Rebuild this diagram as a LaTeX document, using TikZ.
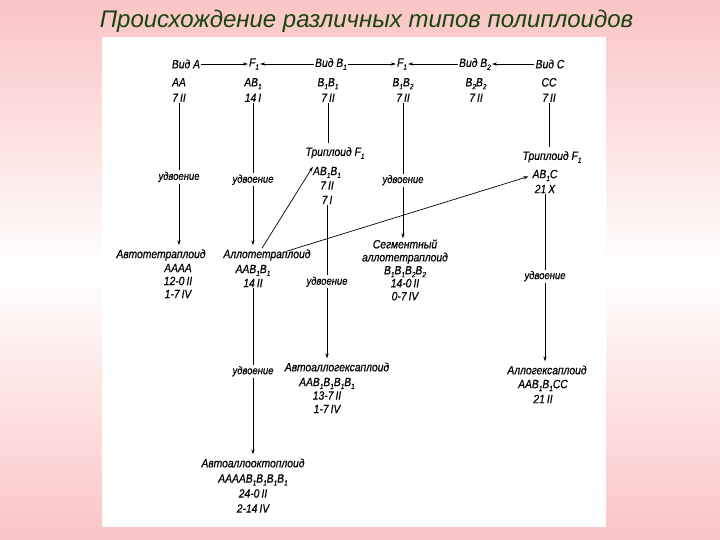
\documentclass[tikz,border=0pt]{standalone}
\usepackage{fontspec}
\setmainfont{Liberation Sans}
\newfontfamily\diagfont[FakeStretch=0.86,FakeBold=0.5]{Liberation Sans}
\usepackage{tikz}
\usetikzlibrary{arrows.meta,calc}
\definecolor{bgpink}{HTML}{FBC4C4}
\definecolor{titlegreen}{HTML}{17440F}
% small lowered index digit
\newcommand{\ix}[1]{\raisebox{-0.45ex}{\fontsize{7.5}{7.5}\selectfont #1}}

\begin{document}
\begin{tikzpicture}[x=1pt, y=-1pt,
  txt/.style={font=\diagfont\fontsize{12}{13}\selectfont\itshape, align=center, inner sep=1pt},
  head/.style={txt, inner ysep=4pt},
  dbl/.style={font=\diagfont\fontsize{11}{12}\selectfont\itshape, fill=white, inner sep=1.5pt},
  plain/.style={line width=0.7pt},
  fwd/.style={plain, -{Stealth[length=5pt,width=3.2pt]}}]
\useasboundingbox (0,0) rectangle (720,540);
% background and sheet
\shade[top color=bgpink, bottom color=bgpink, middle color=white] (0,0) rectangle (720,540);
\fill[white] (102,37) rectangle (606,527);
\node[font=\fontsize{24}{24}\selectfont\itshape, text=titlegreen] (title) at (366.5,21)
  {Происхождение различных типов полиплоидов};
% top row: species and F1 hybrids
\node[txt] (vidA)  at (186,64) {Вид A};
\node[txt] (fAB)   at (254,64) {F\ix1};
\node[txt] (vidB1) at (331,64) {Вид B\ix1};
\node[txt] (fBB)   at (402,64) {F\ix1};
\node[txt] (vidB2) at (475,64) {Вид B\ix2};
\node[txt] (vidC)  at (550,64) {Вид C};
\node[txt, font=\diagfont\fontsize{12}{15.5}\selectfont\itshape] (gA)  at (179,90) {AA\\7\,II};
\node[txt, font=\diagfont\fontsize{12}{15.5}\selectfont\itshape] (gAB) at (253,90) {AB\ix1\\14\,I};
\node[txt, font=\diagfont\fontsize{12}{15.5}\selectfont\itshape] (gB1) at (328,90) {B\ix1B\ix1\\7\,II};
\node[txt, font=\diagfont\fontsize{12}{15.5}\selectfont\itshape] (gBB) at (403,90) {B\ix1B\ix2\\7\,II};
\node[txt, font=\diagfont\fontsize{12}{15.5}\selectfont\itshape] (gB2) at (476,90) {B\ix2B\ix2\\7\,II};
\node[txt, font=\diagfont\fontsize{12}{15.5}\selectfont\itshape] (gC)  at (549,90) {CC\\7\,II};
% triploids
\node[head] (tri1) at (335,153) {Триплоид F\ix1};
\node[txt, font=\diagfont\fontsize{12}{14.5}\selectfont\itshape] (tri1g) at (327,185.5) {AB\ix1B\ix1\\7\,II\\7\,I};
\node[head] (tri2) at (552,157) {Триплоид F\ix1};
\node[txt, font=\diagfont\fontsize{12}{15}\selectfont\itshape] (tri2g) at (545,181.5) {AB\ix1C\\21\,X};
% tetraploids
\node[head] (autoT) at (161,255) {Автотетраплоид};
\node[txt] (autoTg) at (178,281) {AAAA\\12-0\,II\\1-7\,IV};
\node[head] (alloT) at (267,255) {Аллотетраплоид};
\node[txt, font=\diagfont\fontsize{12}{14}\selectfont\itshape] (alloTg) at (253,276) {AAB\ix1B\ix1\\14\,II};
\node[txt] (segm) at (405,270)
  {Сегментный\\аллотетраплоид\\B\ix1B\ix1B\ix2B\ix2\\14-0\,II\\0-7\,IV};
% hexaploids and octoploid
\node[head] (autoHex) at (337,367) {Автоаллогексаплоид};
\node[txt, font=\diagfont\fontsize{12}{13.5}\selectfont\itshape] (autoHexg) at (327,395.5) {AAB\ix1B\ix1B\ix1B\ix1\\13-7\,II\\1-7\,IV};
\node[head] (alloHex) at (547,370) {Аллогексаплоид};
\node[txt, font=\diagfont\fontsize{12}{15}\selectfont\itshape] (alloHexg) at (543,391.5) {AAB\ix1B\ix1CC\\21\,II};
\node[head] (autoOct) at (253,463) {Автоаллооктоплоид};
\node[txt, font=\diagfont\fontsize{12}{15}\selectfont\itshape] (autoOctg) at (253,493.5) {AAAAB\ix1B\ix1B\ix1B\ix1\\24-0\,II\\2-14\,IV};
% crosses
\draw[fwd] (vidA) -- (fAB);
\draw[fwd] (vidB1) -- (fAB);
\draw[fwd] (vidB1) -- (fBB);
\draw[fwd] (vidB2) -- (fBB);
\draw[fwd] (vidC) -- (vidB2);
% doubling and descent
\draw[fwd] (gA.south) -- node[dbl, pos=0.52] {удвоение} (gA.south |- autoT.north);
\draw[fwd] (gAB.south) -- node[dbl, pos=0.54] {удвоение} (gAB.south |- alloT.north);
\draw[plain] (gB1.south) -- (gB1.south |- tri1.north);
\draw[fwd] (gBB.south) -- node[dbl, pos=0.57] {удвоение} (gBB.south |- segm.north);
\draw[plain] (gC.south) -- (gC.south |- tri2.north);
\draw[fwd] (tri1g.south) -- node[dbl, pos=0.5] {удвоение} (tri1g.south |- autoHex.north);
\draw[fwd] (tri2g.south) -- node[dbl, pos=0.49] {удвоение} (tri2g.south |- alloHex.north);
\draw[fwd] (alloTg.south) -- node[dbl, pos=0.5] {удвоение} (alloTg.south |- autoOct.north);
% back-crosses of the allotetraploid
\draw[fwd] ($(alloT.north)+(-5,3)$) -- ($(tri1g.north west)+(1,1)$);
\draw[fwd] ($(alloT.north east)+(-25,6)$) -- ($(tri2g.west)+(-3,-5)$);
\end{tikzpicture}
\end{document}
